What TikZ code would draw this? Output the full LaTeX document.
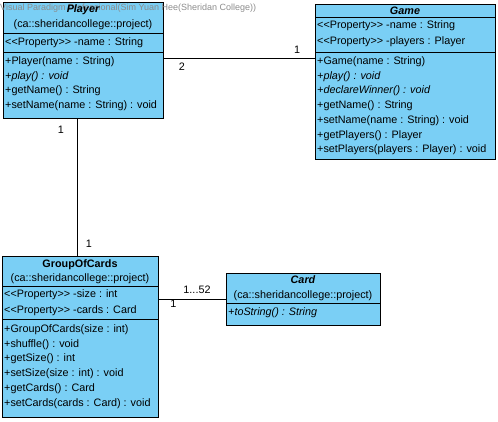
\documentclass[tikz,border=0pt]{standalone}
\usepackage{fontspec}
\setmainfont{Liberation Sans}
\definecolor{umlfill}{RGB}{122,207,245}
\definecolor{wmgray}{RGB}{140,140,140}
\newcommand\umlfs{\fontsize{10.8}{12}\selectfont}
\newcommand\prop{<\kern0pt<Property>\kern0pt>}
\tikzset{
  umlbox/.style={draw=black, fill=umlfill, line width=0.9pt, inner sep=0pt, outer sep=0pt, anchor=north west},
  sepline/.style={draw=black, line width=0.9pt},
  conn/.style={draw=black, line width=0.9pt},
  row/.style={anchor=west, inner sep=0pt, font=\umlfs},
  irow/.style={anchor=west, inner sep=0pt, font=\umlfs\itshape},
  ttl/.style={inner sep=0pt, font=\umlfs\bfseries\itshape},
  bttl/.style={inner sep=0pt, font=\umlfs\bfseries},
  pkg/.style={inner sep=0pt, font=\umlfs},
  mult/.style={inner sep=0pt, font=\umlfs},
  wm/.style={anchor=west, inner sep=0pt, font=\fontsize{9}{10}\selectfont, text=wmgray}
}
\begin{document}
\begin{tikzpicture}[x=1pt, y=-1pt]
\useasboundingbox (0,0) rectangle (498,421);
% ---- boxes
\node[umlbox, minimum width=160pt, minimum height=116pt] (player) at (3,2) {};
\node[umlbox, minimum width=180pt, minimum height=155pt] (game) at (315,4) {};
\node[umlbox, minimum width=156pt, minimum height=161pt] (goc) at (2,256) {};
\node[umlbox, minimum width=154pt, minimum height=52pt] (card) at (226,273) {};
% ---- separators
\draw[sepline] (player.west |- 0,33) -- (player.east |- 0,33);
\draw[sepline] (player.west |- 0,52) -- (player.east |- 0,52);
\draw[sepline] (game.west |- 0,17) -- (game.east |- 0,17);
\draw[sepline] (game.west |- 0,52) -- (game.east |- 0,52);
\draw[sepline] (goc.west |- 0,286) -- (goc.east |- 0,286);
\draw[sepline] (goc.west |- 0,319) -- (goc.east |- 0,319);
\draw[sepline] (card.west |- 0,303) -- (card.east |- 0,303);
% ---- watermark
\node[wm] (wmark) at (0,8) {Visual Paradigm Professional(Sim Yuan Hee(Sheridan College))};
% ---- Player
\node[ttl] (pt) at (83,10) {Player};
\node[pkg] (pp) at (83,25) {(ca::sheridancollege::project)};
\node[row] (pa1) at (5,43) {\prop{} -name : String};
\node[row] (pm1) at (5,62) {+Player(name : String)};
\node[irow] (pm2) at (5,76.5) {+play() : void};
\node[row] (pm3) at (5,91) {+getName() : String};
\node[row] (pm4) at (5,105.5) {+setName(name : String) : void};
% ---- Game
\node[ttl] (gt) at (405,11) {Game};
\node[row] (ga1) at (317,26) {\prop{} -name : String};
\node[row] (ga2) at (317,42) {\prop{} -players : Player};
\node[row] (gm1) at (317,61.5) {+Game(name : String)};
\node[irow] (gm2) at (317,76.5) {+play() : void};
\node[irow] (gm3) at (317,91) {+declareWinner() : void};
\node[row] (gm4) at (317,106) {+getName() : String};
\node[row] (gm5) at (317,121) {+setName(name : String) : void};
\node[row] (gm6) at (317,135.5) {+getPlayers() : Player};
\node[row] (gm7) at (317,150) {+setPlayers(players : Player) : void};
% ---- GroupOfCards
\node[bttl] (ct) at (80,265) {GroupOfCards};
\node[pkg] (cp) at (80,279) {(ca::sheridancollege::project)};
\node[row] (ca1) at (4,294.5) {\prop{} -size : int};
\node[row] (ca2) at (4,310.5) {\prop{} -cards : Card};
\node[row] (cm1) at (4,330) {+GroupOfCards(size : int)};
\node[row] (cm2) at (4,344.5) {+shuffle() : void};
\node[row] (cm3) at (4,359) {+getSize() : int};
\node[row] (cm4) at (4,374) {+setSize(size : int) : void};
\node[row] (cm5) at (4,389) {+getCards() : Card};
\node[row] (cm6) at (4,404) {+setCards(cards : Card) : void};
% ---- Card
\node[ttl] (kt) at (303,280) {Card};
\node[pkg] (kp) at (303,296) {(ca::sheridancollege::project)};
\node[irow] (km1) at (228,312.5) {+toString() : String};
% ---- connectors
\draw[conn] ([yshift=2pt]player.east) -- ([yshift=2pt]player.east -| game.west);
\draw[conn] ([xshift=-2.5pt]goc.north) -- ([xshift=-2.5pt]goc.north |- player.south);
\draw[conn] (card.west) -- (card.west -| goc.east);
% ---- multiplicities
\node[mult] (m1) at (182,66.5) {2};
\node[mult] (m2) at (297,50) {1};
\node[mult] (m3) at (61,129.5) {1};
\node[mult] (m4) at (89,243.5) {1};
\node[mult] (m5) at (197,289.5) {1...52};
\node[mult] (m6) at (173.5,304) {1};
\end{tikzpicture}
\end{document}
